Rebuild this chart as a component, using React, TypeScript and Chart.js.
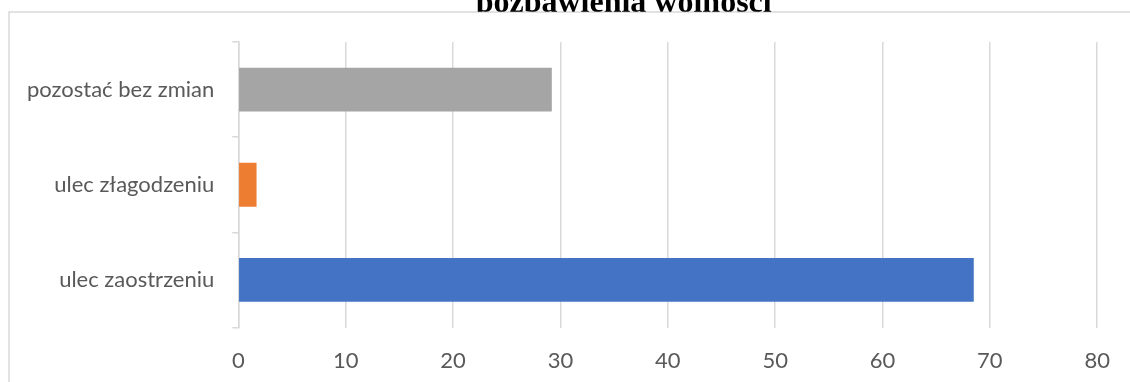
import React, { useEffect, useRef } from "react";
import { Chart, registerables } from "chart.js";

Chart.register(...registerables);

const TITLE = "pozbawienia wolności";
const categories = ["pozostać bez zmian", "ulec złagodzeniu", "ulec zaostrzeniu"];
const values = [29.2, 1.7, 68.5];
const barColors = ["#A5A5A5", "#ED7D31", "#4472C4"];
const xMin = 0;
const xMax = 80;
const xStep = 10;

const SHIFT = 30;
const W = 1130;
const H = 412;
const LABEL_FONT = { family: "Lato", size: 22 };

export default function App() {
  const ref = useRef<HTMLCanvasElement>(null);

  useEffect(() => {
    if (!ref.current) return;
    const framePlugin = {
      id: "frame",
      beforeDraw(chart: any) {
        const ctx = chart.ctx;
        ctx.save();
        ctx.strokeStyle = "#d9d9d9";
        ctx.lineWidth = 1.5;
        ctx.strokeRect(9, 12 + SHIFT, 1300, 600);
        ctx.beginPath();
        ctx.rect(0, 0, W, 11.8 + SHIFT);
        ctx.clip();
        ctx.font = "bold 32px 'Liberation Serif'";
        ctx.fillStyle = "#000";
        ctx.textAlign = "center";
        ctx.textBaseline = "alphabetic";
        ctx.fillText(TITLE, 623.7, 11.5 + SHIFT);
        ctx.restore();
      },
    };

    const chart = new Chart(ref.current, {
      type: "bar",
      data: {
        labels: categories,
        datasets: [
          {
            data: values,
            backgroundColor: barColors,
            borderWidth: 0,
            categoryPercentage: 1,
            barPercentage: 0.46,
          },
        ],
      },
      options: {
        indexAxis: "y",
        animation: false,
        responsive: false,
        devicePixelRatio: 1,
        layout: { padding: { top: 42 + SHIFT, right: W - 1101.7, left: 0, bottom: 0 } },
        plugins: {
          legend: { display: false },
          title: { display: false },
          tooltip: { enabled: false },
        },
        scales: {
          x: {
            type: "linear",
            min: xMin,
            max: xMax,
            ticks: { stepSize: xStep, font: LABEL_FONT, color: "#595959", padding: 20 },
            grid: { color: "#d9d9d9", lineWidth: 1.5, drawTicks: false },
            border: { display: false },
            afterFit: (s: any) => {
              s.height = H - (327.5 + SHIFT);
            },
          },
          y: {
            type: "category",
            offset: true,
            ticks: { font: LABEL_FONT, color: "#595959", padding: 18 },
            grid: {
              offset: true,
              drawOnChartArea: false,
              drawTicks: true,
              tickLength: 6,
              color: "#d9d9d9",
              lineWidth: 1.5,
            },
            border: { display: true, color: "#d9d9d9", width: 1.5 },
            afterFit: (s: any) => {
              s.width = 238.3;
            },
          },
        },
      },
      plugins: [framePlugin],
    } as any);
    return () => chart.destroy();
  }, []);

  return (
    <div style={{ position: "absolute", left: 0, top: -SHIFT, width: W, height: H }}>
      <canvas ref={ref} width={W} height={H} style={{ width: W, height: H, display: "block" }} />
    </div>
  );
}
